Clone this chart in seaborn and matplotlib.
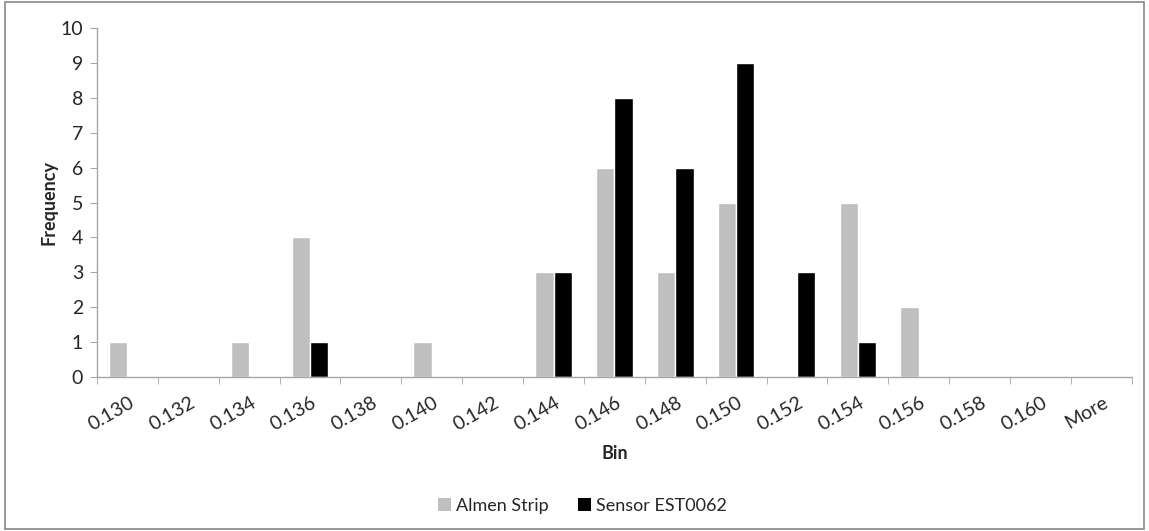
import matplotlib
matplotlib.use("Agg")
import matplotlib.pyplot as plt
import matplotlib.transforms as mtransforms
import seaborn as sns
import pandas as pd
import numpy as np
from matplotlib.patches import Rectangle

bins = ["0.130", "0.132", "0.134", "0.136", "0.138", "0.140", "0.142", "0.144",
        "0.146", "0.148", "0.150", "0.152", "0.154", "0.156", "0.158", "0.160", "More"]
almen = [1, 0, 1, 4, 0, 1, 0, 3, 6, 3, 5, 0, 5, 2, 0, 0, 0]
sensor = [0, 0, 0, 1, 0, 0, 0, 3, 8, 6, 9, 3, 1, 0, 0, 0, 0]
series_names = ["Almen Strip", "Sensor EST0062"]
colors = ["#BFBFBF", "#000000"]

df = pd.DataFrame({
    "Bin": bins * 2,
    "Frequency": almen + sensor,
    "Series": [series_names[0]] * len(bins) + [series_names[1]] * len(bins),
})

sns.set_style("white")
plt.rcParams['font.family'] = ['Lato', 'DejaVu Sans']

fig = plt.figure(figsize=(11.49, 5.31), dpi=100)
ax = fig.add_axes([0.0844, 0.290, 0.9006, 0.657])

sns.barplot(data=df, x="Bin", y="Frequency", hue="Series", order=bins,
            hue_order=series_names, palette=colors, width=0.6, ax=ax,
            saturation=1, legend=False)

ax.set_xlim(-0.5, len(bins) - 0.5)
ax.set_ylim(0, 10)
ax.set_yticks(range(0, 11))
ax.tick_params(axis='y', labelsize=14, length=5, color="#A6A6A6", left=True, pad=5)
ax.set_xticks(range(len(bins)))
ax.set_xticklabels(bins, rotation=30, fontsize=14)
ax.set_xticks(np.arange(-0.5, len(bins)), minor=True)
ax.tick_params(axis='x', which='major', length=0, pad=12)
ax.tick_params(axis='x', which='minor', length=5, color="#A6A6A6", bottom=True)
offset = mtransforms.ScaledTranslation(1 / 100, 0, fig.dpi_scale_trans)
for lab in ax.get_xticklabels():
    lab.set_ha('right')
    lab.set_va('top')
    lab.set_rotation_mode('anchor')
    lab.set_transform(lab.get_transform() + offset)

for s in ['top', 'right']:
    ax.spines[s].set_visible(False)
for s in ['left', 'bottom']:
    ax.spines[s].set_color("#A6A6A6")
    ax.spines[s].set_linewidth(1.0)

ax.set_xlabel("Bin", fontsize=13, fontweight='bold', labelpad=8)
ax.set_ylabel("Frequency", fontsize=13, fontweight='bold', labelpad=2)

handles = [Rectangle((0, 0), 1, 1, facecolor=c, edgecolor='none') for c in colors]
fig.legend(handles, series_names, loc='center', bbox_to_anchor=(0.507, 0.048),
           ncol=2, frameon=False, fontsize=13, handlelength=0.7, handleheight=0.7,
           handletextpad=0.3, columnspacing=1.6)

fig.patches.append(Rectangle((0.004, 0.004), 0.992, 0.992, transform=fig.transFigure,
                             fill=False, edgecolor="#888888", linewidth=1.2))

fig.savefig("out.png", dpi=100)
